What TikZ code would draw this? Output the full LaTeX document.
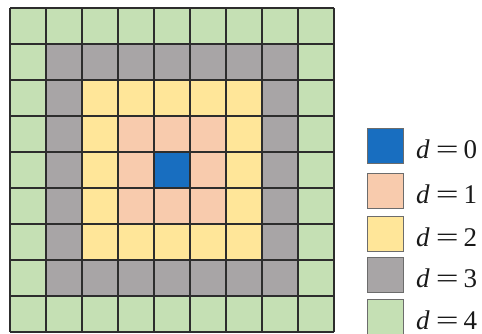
\documentclass[tikz,border=0pt]{standalone}
\usepackage{fontspec}
\usepackage{graphicx}
\setmainfont{Liberation Serif}
\definecolor{cgreen}{RGB}{197,224,180}
\definecolor{cgray}{RGB}{168,165,166}
\definecolor{cyellow}{RGB}{255,230,153}
\definecolor{cpink}{RGB}{248,203,173}
\definecolor{cblue}{RGB}{24,110,192}
\definecolor{cline}{RGB}{45,45,45}
\newcommand{\deq}[1]{\textit{d}\hspace{6pt}\scalebox{1.5}[1]{=}\hspace{5pt}#1}
\begin{document}
\begin{tikzpicture}[x=1pt,y=-1pt,
  cell/.style={draw=cline,line width=1.3pt},
  legbox/.style={draw=cline!70,line width=0.8pt,minimum width=36pt,minimum height=35pt,inner sep=0pt},
  legtext/.style={anchor=base west,font=\fontsize{27}{29}\selectfont,inner sep=0pt,text=black!90}]
\useasboundingbox (0,0) rectangle (482,334);
\foreach \i in {0,...,8}{
  \foreach \j in {0,...,8}{
    \pgfmathtruncatemacro{\dx}{abs(\i-4)}
    \pgfmathtruncatemacro{\dy}{abs(\j-4)}
    \pgfmathtruncatemacro{\d}{max(\dx,\dy)}
    \ifcase\d \def\cc{cblue}\or \def\cc{cpink}\or \def\cc{cyellow}\or \def\cc{cgray}\else \def\cc{cgreen}\fi
    \fill[\cc] (10+36*\i,8+36*\j) rectangle ++(36,36);
  }
}
\foreach \k in {0,...,9}{
  \draw[cell] (10+36*\k,8) -- (10+36*\k,332);
  \draw[cell] (10,8+36*\k) -- (334,8+36*\k);
}
\node[legbox,fill=cblue] (b0) at (385.5,146) {};
\node[legbox,fill=cpink] (b1) at (385.5,191) {};
\node[legbox,fill=cyellow] (b2) at (385.5,234) {};
\node[legbox,fill=cgray] (b3) at (385.5,275) {};
\node[legbox,fill=cgreen] (b4) at (385.5,317) {};
\node[legtext] (t0) at (416,158) {\deq{0}};
\node[legtext] (t1) at (416,203) {\deq{1}};
\node[legtext] (t2) at (416,246) {\deq{2}};
\node[legtext] (t3) at (416,287) {\deq{3}};
\node[legtext] (t4) at (416,329) {\deq{4}};
\end{tikzpicture}
\end{document}
